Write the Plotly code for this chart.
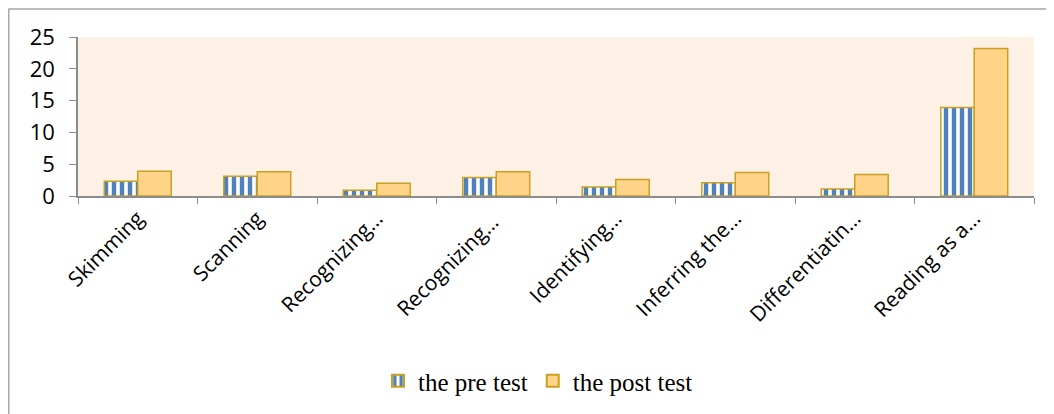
import plotly.graph_objects as go

categories = ["Skimming", "Scanning", "Recognizing…", "Recognizing… ", "Identifying…",
              "Inferring the…", "Differentiatin…", "Reading as a…"]
pre_test = [2.3, 3.1, 0.9, 2.9, 1.4, 2.1, 1.1, 13.9]
post_test = [3.9, 3.8, 2.0, 3.8, 2.6, 3.7, 3.4, 23.2]
y_ticks = [0, 5, 10, 15, 20, 25]

# page body has an 8px margin, so the figure is drawn from (8, 8)
OFF = 8
W, H = 1054 - OFF, 414 - OFF
ml, mr, mt, mb = 78 - OFF, 20, 37 - OFF, 217

fig = go.Figure()
fig.add_trace(go.Bar(
    x=categories, y=pre_test, name="the pre test",
    marker=dict(color="#FFFFFF",
                line=dict(color="#C9A020", width=1.5),
                pattern=dict(shape="|", fgcolor="#4F81BD", bgcolor="#FFFFFF",
                             size=8, solidity=0.55, fillmode="replace")),
))
fig.add_trace(go.Bar(
    x=categories, y=post_test, name="the post test",
    marker=dict(color="#FFD388", line=dict(color="#C9A020", width=1.5)),
))

pw = W - ml - mr
ph = H - mt - mb
def px(x):
    return (x - OFF - ml) / pw
def py(y):
    return (H - mb - (y - OFF)) / ph

fig.update_layout(
    width=W, height=H,
    margin=dict(l=ml, r=mr, t=mt, b=mb),
    paper_bgcolor="white",
    plot_bgcolor="#FDF1E6",
    barmode="group",
    bargap=0.44,
    bargroupgap=0,
    showlegend=True,
    legend=dict(orientation="h", x=px(538), xanchor="center", y=py(381), yanchor="middle",
                font=dict(family="Liberation Serif", size=25, color="black"),
                itemwidth=30, itemsizing="constant", bgcolor="rgba(0,0,0,0)"),
    xaxis=dict(
        tickangle=-45, showgrid=False, showline=True, linecolor="#8C8C8C", linewidth=1.5,
        ticks="outside", tickson="boundaries", ticklen=6, tickcolor="#8C8C8C",
        tickfont=dict(family="Open Sans", size=21, color="black"),
    ),
    yaxis=dict(
        range=[0, 25], tickvals=y_ticks, showgrid=False, zeroline=False,
        showline=True, linecolor="#8C8C8C", linewidth=1.5,
        ticks="outside", ticklen=7, tickcolor="#8C8C8C", ticklabelstandoff=10,
        tickfont=dict(family="Open Sans", size=22, color="black"),
    ),
    shapes=[
        dict(type="line", xref="paper", yref="paper", x0=px(8.5), x1=px(1060), y0=py(8.8), y1=py(8.8),
             line=dict(color="#A6A6A6", width=1.5)),
        dict(type="line", xref="paper", yref="paper", x0=px(8.8), x1=px(8.8), y0=py(8.5), y1=py(420),
             line=dict(color="#A6A6A6", width=1.5)),
    ],
)

fig.write_html("out.html")
